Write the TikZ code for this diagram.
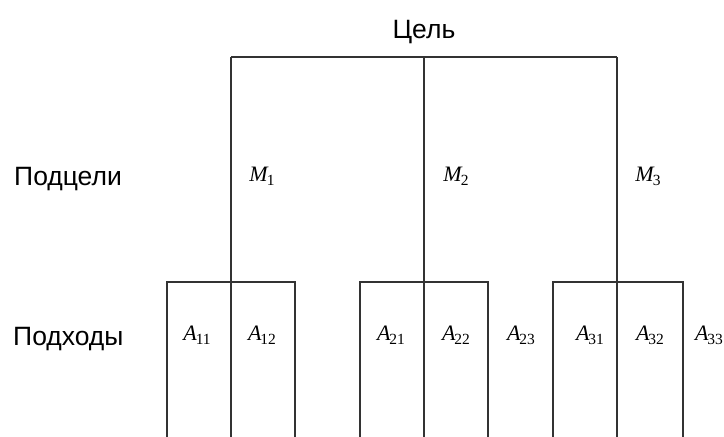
\documentclass[tikz,border=0pt]{standalone}
\usepackage{fontspec}
\setmainfont{Liberation Sans}
\newfontfamily\tms{Liberation Serif}
\newcommand{\vr}[2]{{\tms\itshape #1\kern-1pt\raisebox{-0.22em}{\fontsize{15.5}{16}\selectfont\upshape #2}}}
\begin{document}
\begin{tikzpicture}[x=1pt,y=-1pt,
  lbl/.style={inner sep=0pt,anchor=base,font=\fontsize{26.5}{30}\selectfont},
  mlbl/.style={inner sep=0pt,anchor=base,font=\fontsize{22}{26}\selectfont},
  ln/.style={draw=black!80,line width=1.2pt}]
\useasboundingbox (0,0) rectangle (724,437);
% labels
\node[lbl] (goal) at (424,38) {Цель};
\node[lbl,anchor=base west] (sub) at (14,185) {Подцели};
\node[lbl,anchor=base west] (app) at (13,345) {Подходы};
\node[mlbl] (m1) at (262,181) {\vr{M}{1}};
\node[mlbl] (m2) at (456,181) {\vr{M}{2}};
\node[mlbl] (m3) at (648,181) {\vr{M}{3}};
\node[mlbl] (a11) at (197,340) {\vr{A}{11}};
\node[mlbl] (a12) at (262,340) {\vr{A}{12}};
\node[mlbl] (a21) at (391,340) {\vr{A}{21}};
\node[mlbl] (a22) at (456,340) {\vr{A}{22}};
\node[mlbl] (a23) at (521,340) {\vr{A}{23}};
\node[mlbl] (a31) at (590,340) {\vr{A}{31}};
\node[mlbl] (a32) at (650,340) {\vr{A}{32}};
\node[mlbl] (a33) at (709,340) {\vr{A}{33}};
% junction coordinates
\coordinate (g1) at (231,57);
\coordinate (g2) at (424,57);
\coordinate (g3) at (617,57);
\foreach \i/\l/\m/\r in {1/167/231/295,2/360/424/488,3/553/617/683}{
  \coordinate (bl\i) at (\l,282);
  \coordinate (bm\i) at (\m,282);
  \coordinate (br\i) at (\r,282);
  \coordinate (el\i) at (\l,437);
  \coordinate (em\i) at (\m,437);
  \coordinate (er\i) at (\r,437);
}
% tree
\draw[ln] (g1) -- (g3);
\foreach \i in {1,2,3}{
  \draw[ln] (g\i) -- (em\i);
  \draw[ln] (el\i) -- (bl\i) -- (br\i) -- (er\i);
}
\end{tikzpicture}
\end{document}
